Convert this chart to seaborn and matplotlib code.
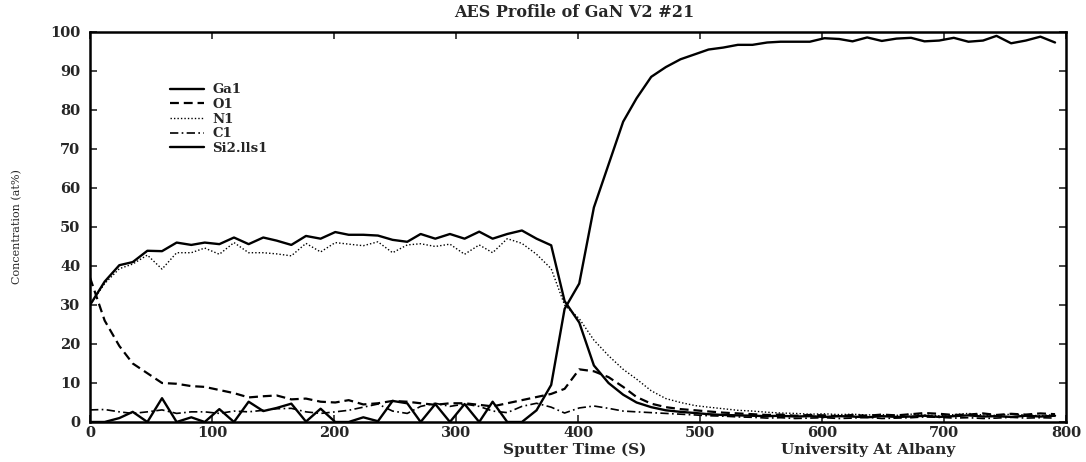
import numpy as np
import pandas as pd
import matplotlib
matplotlib.use("Agg")
import matplotlib.pyplot as plt
import seaborn as sns

## data
time = [0, 12, 24, 35, 47, 59, 71, 83, 94, 106, 118, 130, 142, 153, 165, 177, 189, 201, 212, 224,
        236, 248, 260, 271, 283, 295, 307, 319, 330, 342, 354, 366, 378, 389, 401, 413, 425, 437, 448, 460,
        472, 484, 496, 507, 519, 531, 543, 555, 566, 578, 590, 602, 614, 625, 637, 649, 661, 673, 684, 696,
        708, 720, 732, 743, 755, 767, 779, 791]

ga1 = [30, 36, 40.2, 41, 43.9, 43.8, 46, 45.4, 46, 45.6, 47.3, 45.6, 47.3, 46.5, 45.4, 47.7, 47, 48.7, 48, 48,
       47.8, 46.7, 46.2, 48.2, 47, 48.2, 47, 48.8, 47, 48.2, 49.1, 47, 45.3, 31, 25.5, 14.5, 10, 7, 5, 3.8,
       3, 2.6, 2.3, 2, 1.8, 1.7, 1.6, 1.5, 1.6, 1.4, 1.5, 1.3, 1.5, 1.4, 1.2, 1.5, 1.3, 1.4, 1.6, 1.3,
       1.5, 1.7, 1.4, 1.5, 1.3, 1.6, 1.4, 1.6]

o1 = [37, 26, 19.5, 15, 12.5, 10, 9.8, 9.2, 9, 8.2, 7.4, 6.3, 6.6, 6.8, 5.8, 6, 5.2, 5, 5.6, 4.5,
      4.8, 5.4, 5.2, 4.8, 4.4, 4.8, 4.8, 4.4, 4, 4.8, 5.6, 6.4, 7.2, 8.5, 13.5, 13, 11.5, 9, 6.4, 4.7,
      3.8, 3.3, 3, 2.7, 2.4, 2.2, 2, 1.8, 1.9, 1.6, 1.8, 1.7, 1.5, 1.8, 1.6, 1.9, 1.7, 2, 2.3, 2.1,
      1.8, 1.9, 2.2, 1.8, 2.1, 1.9, 2.2, 2]

n1 = [30, 35.5, 39.3, 40.5, 42.8, 39.2, 43.4, 43.4, 44.6, 43, 46, 43.4, 43.4, 43.1, 42.6, 45.8, 43.6, 46, 45.6, 45.2,
      46.2, 43.4, 45.4, 45.7, 45, 45.6, 43, 45.4, 43.4, 47, 45.8, 43, 39.3, 30, 26.5, 21, 17, 13.5, 11, 8,
      6, 5, 4.2, 3.8, 3.4, 3, 2.8, 2.5, 2.3, 2.2, 2, 2.1, 1.9, 2, 1.8, 1.9, 1.7, 2, 1.8, 1.6,
      1.9, 2.2, 1.8, 1.7, 2, 1.8, 1.6, 1.9]

c1 = [3.1, 3.2, 2.6, 2.2, 2.6, 3.1, 2.2, 2.6, 2.6, 2.2, 2.8, 2.6, 3, 3.4, 3.5, 2.6, 2.2, 2.6, 3, 3.8,
      4.6, 2.8, 2.2, 4, 4.8, 4, 4.6, 4, 2.8, 2.4, 4, 4.8, 3.8, 2.3, 3.6, 4.1, 3.5, 2.8, 2.6, 2.4,
      2.2, 2, 1.8, 1.6, 1.5, 1.3, 1.2, 1, 1.1, 0.9, 1, 1.1, 0.9, 1, 1.2, 0.9, 1, 1.1, 1.3, 1.2,
      1, 1.1, 0.9, 1, 1.2, 1, 1.1, 1]

si = [0, 0, 1, 2.6, 0, 6.1, 0, 1.2, 0, 3.3, 0, 5.2, 2.8, 3.6, 4.7, 0.1, 3.4, 0, 0, 1.2,
      0.2, 5.4, 4.8, 0, 4.6, 0, 4.6, 0, 5.2, 0, 0, 3, 9.5, 29, 35.5, 55, 66, 77, 83, 88.5,
      91, 93, 94.3, 95.5, 96, 96.7, 96.7, 97.3, 97.5, 97.5, 97.5, 98.4, 98.2, 97.6, 98.6, 97.7, 98.3, 98.5, 97.6, 97.8,
      98.5, 97.5, 97.8, 99, 97.1, 97.8, 98.8, 97.3]

names = ["Ga1", "O1", "N1", "C1", "Si2.lls1"]
series = [ga1, o1, n1, c1, si]
styles = ["-", (0, (4, 2.2)), (0, (1, 1.5)), (0, (5, 2, 1, 2)), "-"]
widths = [1.7, 1.6, 1.0, 1.2, 1.7]

sns.set_style("ticks")
plt.rcParams['font.family'] = ['DejaVu Serif']

fig = plt.figure(figsize=(10.86, 4.62), dpi=100)
ax = fig.add_axes([0.0829, 0.0866, 0.8987, 0.8442])

for name, vals, ls, lw in zip(names, series, styles, widths):
    df = pd.DataFrame({"time": time, "conc": vals})
    sns.lineplot(data=df, x="time", y="conc", ax=ax, color="black", linewidth=lw,
                 linestyle=ls, label=name)

ax.set_xlim(0, 800)
ax.set_ylim(0, 100)
ax.set_xticks(range(0, 801, 100))
ax.set_yticks(range(0, 101, 10))
ax.tick_params(direction="in", length=5, width=1.2, top=True, right=True,
               labelsize=10.5)
ax.tick_params(axis="y", pad=7)
ax.tick_params(axis="x", pad=3)
for lab in ax.get_xticklabels() + ax.get_yticklabels():
    lab.set_fontweight("bold")
for sp in ax.spines.values():
    sp.set_linewidth(1.8)
    sp.set_color("black")

ax.set_xlabel("")
ax.set_ylabel("Concentration (at%)", fontsize=8, labelpad=20)
fig.text(0.529, 0.972, "AES Profile of GaN V2 #21", ha="center", va="center",
         fontsize=11.5, fontweight="bold")
fig.text(0.529, 0.027, "Sputter Time (S)", ha="center", va="center",
         fontsize=11, fontweight="bold")
fig.text(0.799, 0.027, "University At Albany", ha="center", va="center",
         fontsize=11, fontweight="bold")

leg = ax.legend(loc="upper left", bbox_to_anchor=(0.075, 0.885), frameon=False,
                handlelength=2.6, handletextpad=0.6, labelspacing=0.12,
                prop={"size": 9.5, "weight": "bold"}, borderpad=0)

fig.savefig("out.png", dpi=100, facecolor="white")
